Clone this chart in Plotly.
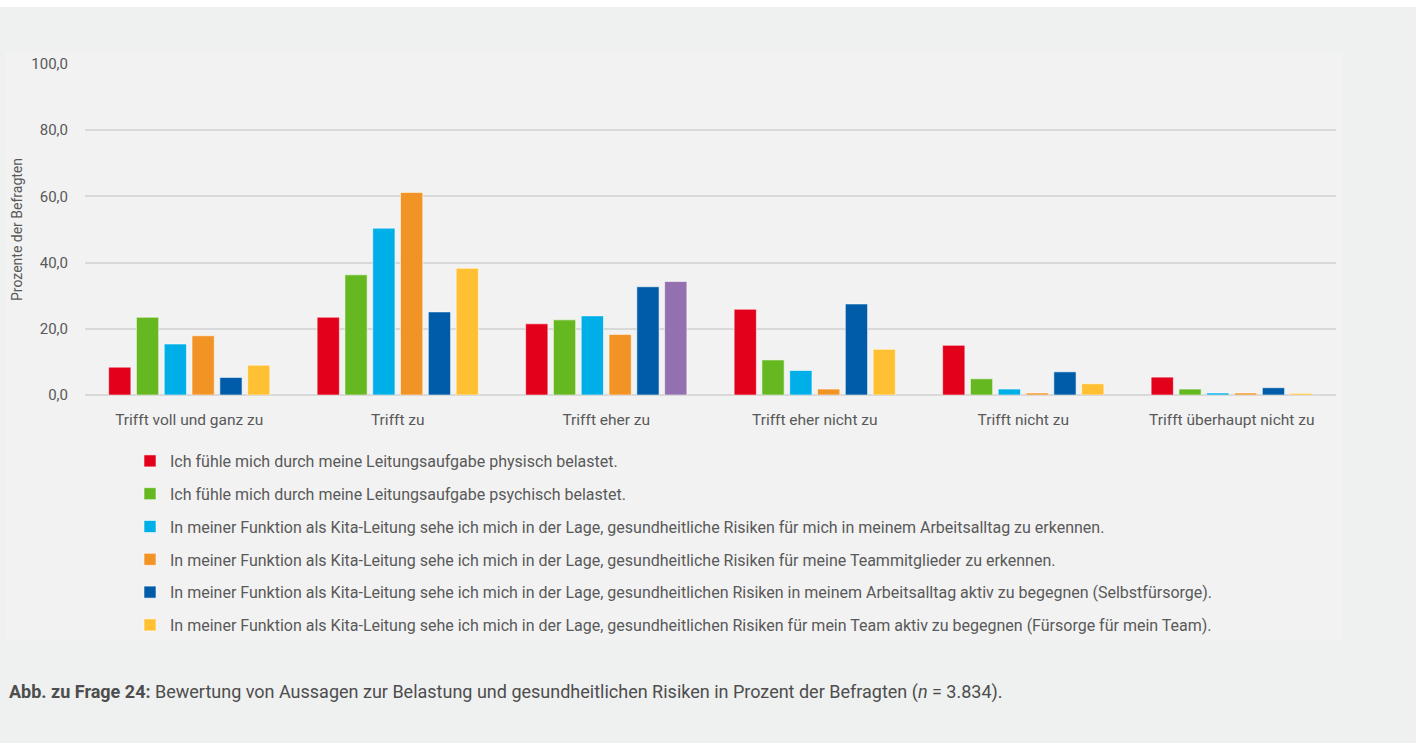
import plotly.graph_objects as go

categories = ["Trifft voll und ganz zu", "Trifft zu", "Trifft eher zu",
              "Trifft eher nicht zu", "Trifft nicht zu", "Trifft überhaupt nicht zu"]

series_names = [
    "Ich fühle mich durch meine Leitungsaufgabe physisch belastet.",
    "Ich fühle mich durch meine Leitungsaufgabe psychisch belastet.",
    "In meiner Funktion als Kita-Leitung sehe ich mich in der Lage, gesundheitliche Risiken für mich in meinem Arbeitsalltag zu erkennen.",
    "In meiner Funktion als Kita-Leitung sehe ich mich in der Lage, gesundheitliche Risiken für meine Teammitglieder zu erkennen.",
    "In meiner Funktion als Kita-Leitung sehe ich mich in der Lage, gesundheitlichen Risiken in meinem Arbeitsalltag aktiv zu begegnen (Selbstfürsorge).",
    "In meiner Funktion als Kita-Leitung sehe ich mich in der Lage, gesundheitlichen Risiken für mein Team aktiv zu begegnen (Fürsorge für mein Team).",
]

physisch = [8.4, 23.5, 21.5, 25.9, 15.0, 5.4]
psychisch = [23.5, 36.3, 22.7, 10.6, 4.9, 1.8]
risiken_erkennen_selbst = [15.4, 50.4, 23.9, 7.4, 1.8, 0.6]
risiken_erkennen_team = [17.9, 61.2, 18.3, 1.8, 0.6, 0.6]
begegnen_selbst = [5.3, 25.1, 32.7, 27.5, 7.0, 2.2]
begegnen_team = [9.0, 38.3, 34.3, 13.8, 3.4, 0.5]

values = [physisch, psychisch, risiken_erkennen_selbst, risiken_erkennen_team,
          begegnen_selbst, begegnen_team]
colors = ["#e2001a", "#66b821", "#00aee8", "#f29325", "#005ca9", "#ffc033"]
# the third category's last bar is drawn in purple in the original
last_series_colors = ["#ffc033", "#ffc033", "#9370b0", "#ffc033", "#ffc033", "#ffc033"]

y_ticks = [0, 20, 40, 60, 80, 100]

FONT = "Roboto"
W, H = 1416, 743
L, R, T, B = 85, 80, 64, 348

fig = go.Figure()
for i, (name, vals) in enumerate(zip(series_names, values)):
    col = last_series_colors if i == 5 else colors[i]
    fig.add_trace(go.Bar(
        x=categories, y=vals, name=name, legendgroup=f"g{i}",
        marker=dict(color=col, line=dict(color="rgba(255,255,255,0.55)", width=1)),
        hoverinfo="x+y+name",
    ))

pw = W - L - R
ph = H - T - B


def px_x(p):
    return (p - L) / pw


def px_y(p):
    return (H - B - p) / ph


shapes = [
    dict(type="rect", xref="paper", yref="paper", x0=px_x(0), x1=px_x(W), y0=px_y(0), y1=px_y(7),
         fillcolor="white", line=dict(width=0), layer="below"),
    dict(type="rect", xref="paper", yref="paper", x0=px_x(5), x1=px_x(1342), y0=px_y(52), y1=px_y(641),
         fillcolor="#f2f2f2", line=dict(width=0), layer="below"),
]

fig.update_layout(
    width=W, height=H,
    margin=dict(l=L, r=R, t=T, b=B, pad=0),
    paper_bgcolor="#eff0f0",
    plot_bgcolor="rgba(0,0,0,0)",
    barmode="group", bargap=0.2, bargroupgap=0.2,
    separators=",.",
    font=dict(family=FONT, size=14, color="#595959"),
    shapes=shapes,
    showlegend=True,
    legend=dict(
        x=px_x(130), y=px_y(444), xanchor="left", yanchor="top",
        orientation="v", traceorder="grouped", tracegroupgap=9,
        font=dict(family=FONT, size=16, color="#595959"),
        bgcolor="rgba(0,0,0,0)", itemclick=False, itemdoubleclick=False,
    ),
    xaxis=dict(
        showgrid=False, zeroline=False, showline=False, ticks="",
        tickfont=dict(family=FONT, size=15.5, color="#595959"),
        ticklabelstandoff=13,
    ),
    yaxis=dict(
        range=[0, 100], tickvals=y_ticks, tickformat=".1f",
        showgrid=True, gridcolor="#d9d9d9", gridwidth=1.5,
        zeroline=True, zerolinecolor="#d9d9d9", zerolinewidth=1.5,
        showline=False, ticks="",
        tickfont=dict(family=FONT, size=15, color="#595959"),
        ticklabelstandoff=16,
        title=dict(text="Prozente der Befragten", standoff=5,
                   font=dict(family=FONT, size=14, color="#595959")),
    ),
    annotations=[
        dict(xref="paper", yref="paper", x=px_x(7), y=px_y(692), xanchor="left", yanchor="middle",
             showarrow=False, align="left",
             text="<b>Abb. zu Frage 24:</b> Bewertung von Aussagen zur Belastung und gesundheitlichen Risiken in Prozent der Befragten (<i>n</i> = 3.834).",
             font=dict(family=FONT, size=18, color="#4d4d4d")),
    ],
)

fig.write_html("out.html", config={"displayModeBar": False},
               post_script="document.body.style.margin='0';document.body.style.overflow='hidden';")
